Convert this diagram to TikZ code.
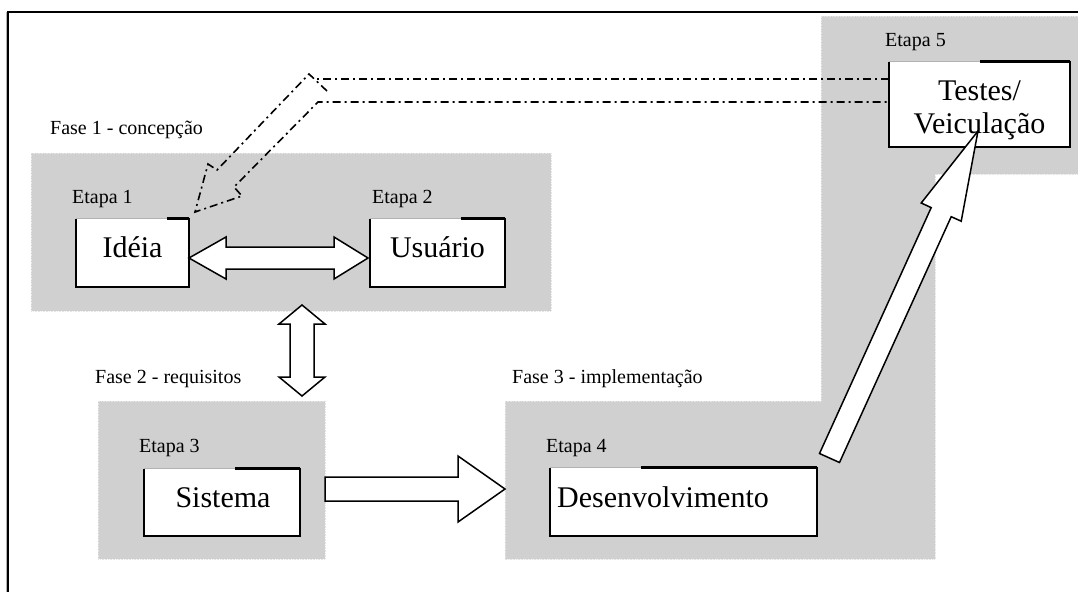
\documentclass[tikz,border=0pt]{standalone}
\usepackage{fontspec}
\setmainfont{Liberation Serif}
\begin{document}
\begin{tikzpicture}[x=1pt,y=-1pt,
  phase/.style={fill=boxgray,draw=gray!20,densely dotted,line width=0.6pt},
  stepbox/.style={fill=white,draw=none,inner sep=0pt},
  small/.style={anchor=base west,inner sep=0pt,font=\fontsize{20}{24}\selectfont},
  big/.style={inner sep=0pt,font=\fontsize{30}{33}\selectfont},
  blockarrow/.style={fill=white,draw=black,line width=1.5pt,line join=miter},
  returnarrow/.style={draw=black,line width=1.6pt,dash pattern=on 8pt off 4pt on 2pt off 4pt}]
\definecolor{boxgray}{RGB}{208,208,208}
\useasboundingbox (0,0) rectangle (1078,592);

% shaded phase areas
\path[phase] (31,153) rectangle (551,311);
\path[phase] (98,401) rectangle (325,559);
\path[phase] (505,401) -- (821,401) -- (821,16) -- (1078,16) -- (1078,174)
  -- (935,174) -- (935,559) -- (505,559) -- cycle;

% page frame
\draw[gray!60,line width=0.8pt] (6.4,12) -- (6.4,592);
\draw[black,line width=1.8pt] (1078,12) -- (8,12) -- (8,592);

% phase and step labels
\node[small] (f1) at (50,134) {Fase 1 - concepção};
\node[small] (e1) at (72,203) {Etapa 1};
\node[small] (e2) at (372,203) {Etapa 2};
\node[small] (f2) at (95,383) {Fase 2 - requisitos};
\node[small] (e3) at (139,452) {Etapa 3};
\node[small] (f3) at (512,383) {Fase 3 - implementação};
\node[small] (e4) at (546,452) {Etapa 4};
\node[small] (e5) at (885,46) {Etapa 5};

% step boxes
\node[stepbox,minimum width=113pt,minimum height=68pt] (idea) at (132.5,253) {};
\node[stepbox,minimum width=135pt,minimum height=68pt] (usuario) at (437.5,253) {};
\node[stepbox,minimum width=156pt,minimum height=67pt] (sistema) at (222,502.5) {};
\node[stepbox,minimum width=267pt,minimum height=68pt] (desenv) at (683.5,502) {};
\node[stepbox,minimum width=181pt,minimum height=85pt] (testes) at (979.5,104.5) {};

\foreach \n in {idea,usuario,sistema,desenv,testes}{
  \draw[black,line width=1.5pt] ([xshift=91pt]\n.north west) -- (\n.north east)
    -- (\n.south east) -- (\n.south west) -- (\n.north west);
  \draw[gray!60,line width=0.9pt] (\n.north west) -- ([xshift=91pt]\n.north west);
  \draw[black,line width=1.2pt] ([xshift=91pt,yshift=1pt]\n.north west)
    -- ([yshift=1pt]\n.north east);
}

% box texts
\node[big,anchor=base] (tidea) at (132.5,257) {Idéia};
\node[big,anchor=base] (tusuario) at (437.5,257.5) {Usuário};
\node[big,anchor=base] (tsistema) at (223,507) {Sistema};
\node[big,anchor=base west] (tdesenv) at (557,507) {Desenvolvimento};
\node[big,anchor=base] (ttestes) at (979.5,100) {Testes/};
\node[big,anchor=base] (tveic) at (979.5,133) {Veiculação};

% Idéia <-> Usuário
\draw[blockarrow] (189,258) -- (226,237) -- (226,247) -- (334,247) -- (334,237)
  -- (368,258) -- (334,279) -- (334,269) -- (226,269) -- (226,279) -- cycle;

% Fase 1 <-> Fase 2
\draw[blockarrow] (302,305) -- (325,324) -- (314,324) -- (314,377) -- (325,377)
  -- (302,396) -- (279,377) -- (290,377) -- (290,324) -- (279,324) -- cycle;

% Sistema -> Desenvolvimento
\draw[blockarrow] (325,477) -- (458,477) -- (458,456) -- (505,489) -- (458,522)
  -- (458,501) -- (325,501) -- cycle;

% Desenvolvimento -> Testes/Veiculação
\draw[blockarrow] (819.5,453.5) -- (931.2,207.6) -- (921.2,203.0) -- (978,131)
  -- (961.2,221.2) -- (951.2,216.7) -- (839.5,462.5) -- cycle;

% return path Testes/Veiculação -> Idéia
\draw[returnarrow] (889,79) -- (314,79);
\draw[returnarrow] (327,91) -- (309,74) -- (217,170) -- (208,164) -- (195,212)
  -- (242,196) -- (234,187) -- (318,102) -- (889,102);
\end{tikzpicture}
\end{document}
